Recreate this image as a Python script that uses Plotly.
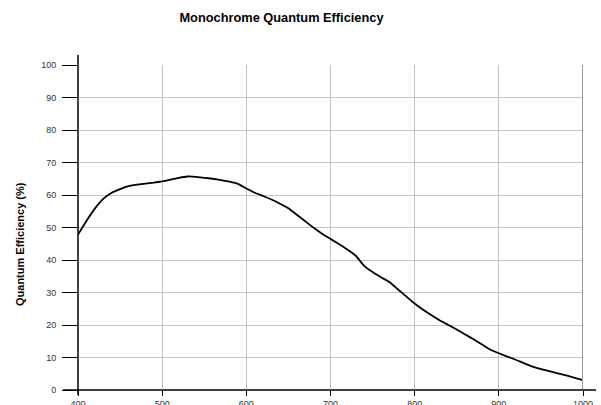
import plotly.graph_objects as go

wavelength = [400, 410, 420, 430, 440, 450, 460, 470, 480, 490, 500, 510, 520, 530, 540,
              550, 560, 570, 580, 590, 600, 610, 620, 630, 640, 650, 660, 670, 680, 690,
              700, 710, 720, 730, 740, 750, 760, 770, 780, 790, 800, 810, 820, 830, 840,
              850, 860, 870, 880, 890, 900, 920, 940, 960, 980, 1000]
qe = [47.8, 52.0, 55.8, 58.8, 60.7, 61.8, 62.7, 63.2, 63.5, 63.8, 64.2, 64.7, 65.3, 65.7, 65.6,
      65.3, 65.0, 64.6, 64.1, 63.4, 62.0, 60.7, 59.7, 58.6, 57.3, 55.9, 53.9, 51.9, 49.9, 48.1,
      46.5, 44.9, 43.2, 41.3, 38.2, 36.3, 34.7, 33.2, 31.0, 28.8, 26.6, 24.7, 23.0, 21.4, 20.0,
      18.6, 17.1, 15.6, 14.0, 12.4, 11.3, 9.3, 7.2, 5.8, 4.5, 3.0]
x_ticks = [400, 500, 600, 700, 800, 900, 1000]
y_ticks = [0, 10, 20, 30, 40, 50, 60, 70, 80, 90, 100]

fig = go.Figure()
fig.add_trace(go.Scatter(x=wavelength, y=qe, mode="lines",
                         line=dict(color="black", width=1.8, shape="spline", smoothing=0.4),
                         showlegend=False, hoverinfo="skip"))

W, H = 601, 405
L, R, T, B = 78, 18, 65, 15
pw, ph = W - L - R, H - T - B

fig.update_layout(
    width=W, height=H,
    margin=dict(l=L, r=R, t=T, b=B, autoexpand=False),
    paper_bgcolor="white", plot_bgcolor="white",
    font=dict(family="Liberation Sans, Arial, sans-serif", color="#333"),
    title=dict(text="<b>Monochrome Quantum Efficiency</b>",
               font=dict(family="Liberation Sans, Arial, sans-serif", size=12.8, color="black"),
               x=281.5 / W, xref="container", xanchor="center",
               y=1 - 18 / H, yref="container", yanchor="middle"),
    xaxis=dict(range=[400, 1000], tickvals=x_ticks, ticktext=[str(v) for v in x_ticks],
               showgrid=True, gridcolor="#c4c4c4", gridwidth=1, zeroline=False,
               showline=False, ticks="outside", ticklen=5, tickcolor="black", tickwidth=1,
               tickfont=dict(size=9, color="#333"), automargin=False),
    yaxis=dict(range=[0, 100], tickvals=y_ticks, ticktext=[str(v) for v in y_ticks],
               showgrid=True, gridcolor="#c4c4c4", gridwidth=1, zeroline=False,
               showline=False, ticks="outside", ticklen=15, tickcolor="black", tickwidth=1,
               tickfont=dict(size=9, color="#333"), ticklabelstandoff=4, automargin=False),
    annotations=[dict(text="<b>Quantum Efficiency (%)</b>", textangle=-90,
                      xref="paper", yref="paper",
                      x=(20 - L) / pw, y=(H - B - 244) / ph,
                      showarrow=False, xanchor="center", yanchor="middle",
                      font=dict(size=11, color="black"))],
    shapes=[
        # right border at 1000
        dict(type="line", xref="x", yref="y", x0=1000, x1=1000, y0=0, y1=100,
             line=dict(color="#9a9a9a", width=2), layer="above"),
        # x axis line extended
        dict(type="line", xref="paper", yref="paper", x0=(63 - L) / pw, x1=(596 - L) / pw,
             y0=0, y1=0, line=dict(color="black", width=1.5), layer="above"),
        # y axis line extended
        dict(type="line", xref="paper", yref="paper", x0=0, x1=0,
             y0=(H - B - 395) / ph, y1=(H - B - 55) / ph,
             line=dict(color="black", width=1.5), layer="above"),
    ],
)

fig.write_html("out.html", config={"displayModeBar": False},
               post_script="document.body.style.margin='0';document.body.style.overflow='hidden';")
